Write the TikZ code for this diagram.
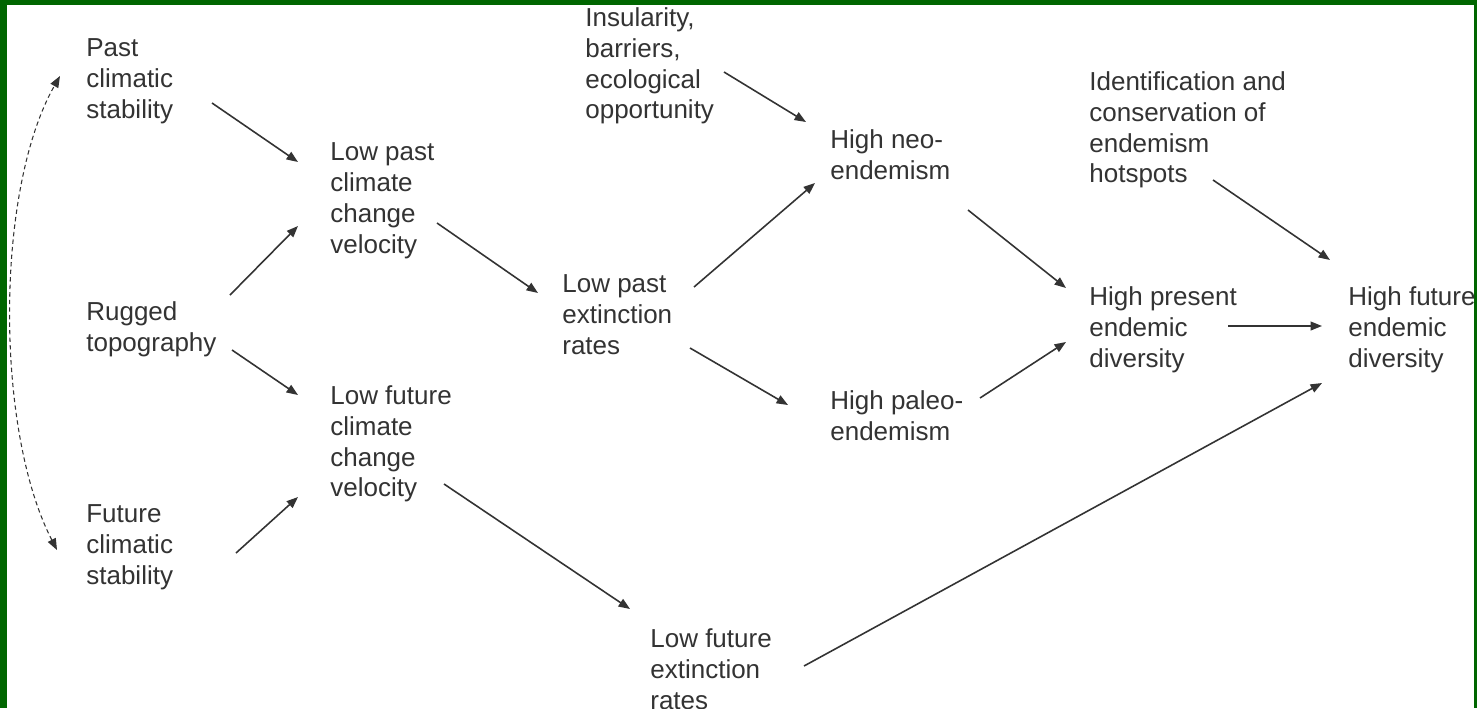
\documentclass[tikz,border=0pt]{standalone}
\usepackage{fontspec}
\setmainfont{Liberation Sans}
\usepackage{tikz}
\usetikzlibrary{arrows.meta, calc}
\definecolor{marco}{HTML}{006600}
\definecolor{tinta}{HTML}{333333}
\tikzset{
  every picture/.style={>={Triangle[length=6.5pt,width=5pt]}},
  etiq/.style={anchor=north west, inner sep=0pt, text=tinta, align=left,
               font=\fontsize{14.8}{17.6}\selectfont},
  paso/.style={->, line width=0.9pt, tinta},
  pasod/.style={<->, line width=0.6pt, tinta, dash pattern=on 2.5pt off 1.8pt},
}

\begin{document}
\begin{tikzpicture}[x=0.02cm, y=-0.02cm]
  % frame
  \fill[marco] (0,0) rectangle (1477,708);
  \fill[white] (7,5) rectangle (1474,708);
  \useasboundingbox (0,0) rectangle (1477,708);
  % left column
  \node[etiq] (pcs) at (86,38) {Past\\climatic\\stability};
  \node[etiq] (rug) at (86,301) {Rugged\\topography};
  \node[etiq] (fcs) at (86,504) {Future\\climatic\\stability};
  % velocities
  \node[etiq] (lpv) at (330,142) {Low past\\climate\\change\\velocity};
  \node[etiq] (lfv) at (330,385) {Low future\\climate\\change\\velocity};
  % extinction
  \node[etiq] (lpe) at (562,274) {Low past\\extinction\\rates};
  \node[etiq] (lfe) at (650,628) {Low future\\extinction\\rates};
  \node[etiq] (ins) at (585,7) {Insularity,\\barriers,\\ecological\\opportunity};
  % endemism
  \node[etiq] (neo) at (830,129) {High neo-\\endemism};
  \node[etiq] (pal) at (830,390) {High paleo-\\endemism};
  \node[etiq] (idc) at (1089,71) {Identification and\\conservation of\\endemism\\hotspots};
  \node[etiq] (hpd) at (1089,286) {High present\\endemic\\diversity};
  \node[etiq] (hfd) at (1348,286) {High future\\endemic\\diversity};
  % arrows
  \foreach \a/\sx/\sy/\b/\ex/\ey in {pcs/126/65/lpv/-32/20, rug/144/-6/lpv/-32/84,
      rug/146/49/lfv/-32/10, fcs/150/49/lfv/-32/112, lpv/107/81/lpe/-24/19,
      lfv/114/99/lfe/-20/-19, lpe/132/13/neo/-15/54, lpe/128/74/pal/-42/15,
      ins/139/65/neo/-24/-7, neo/138/81/hpd/-23/2, pal/150/8/hpd/-23/56,
      idc/124/109/hfd/-18/-26, hpd/139/40/hfd/-26/40, lfe/154/38/hfd/-26/97}
    \draw[paso] ($(\a.north west)+(\sx,\sy)$) -- ($(\b.north west)+(\ex,\ey)$);
  \draw[pasod] ($(fcs.north west)+(-29,46)$) .. controls ($(fcs.north west)+(-91,-74)$)
    and ($(pcs.north west)+(-91,152)$) .. ($(pcs.north west)+(-26,38)$);
\end{tikzpicture}
\end{document}
